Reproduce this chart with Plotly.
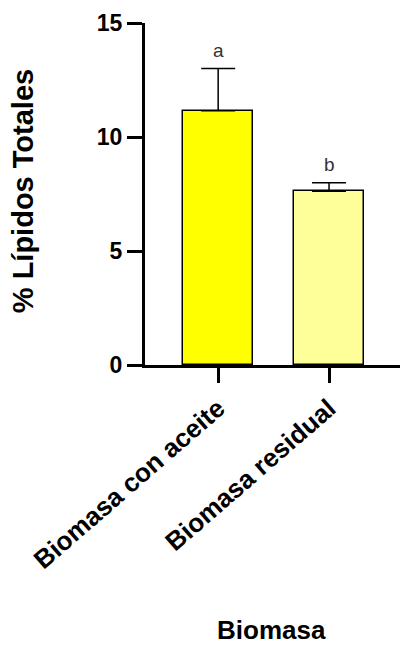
import plotly.graph_objects as go

categories = ["Biomasa con aceite", "Biomasa residual"]
means = [11.15, 7.62]
sds = [1.85, 0.37]
letters = ["a", "b"]
bar_colors = ["#FFFF00", "#FFFF99"]
y_ticks = [0, 5, 10, 15]

FONT = "Liberation Sans, Arial, sans-serif"

fig = go.Figure()
fig.add_trace(go.Bar(
    x=categories, y=means,
    width=0.63,
    marker=dict(color=bar_colors, line=dict(color="black", width=1.5)),
    error_y=dict(type="data", symmetric=False, array=sds,
                 arrayminus=[0] * len(sds), width=17, thickness=1.5,
                 color="black"),
    showlegend=False,
))

for c, m, s, l in zip(categories, means, sds, letters):
    fig.add_annotation(x=c, y=m + s, text=l, showarrow=False,
                       yanchor="bottom", yshift=6,
                       font=dict(family=FONT, size=19, color="#333333"))

fig.add_annotation(xref="paper", yref="paper", x=-0.48, y=0.507,
                   text="% Lípidos Totales", textangle=-90,
                   showarrow=False, xanchor="center", yanchor="middle",
                   font=dict(family=FONT, size=29, color="black", weight="bold"))
fig.add_annotation(xref="paper", yref="paper", x=0.498, y=-0.8246,
                   text="Biomasa", showarrow=False,
                   xanchor="center", yanchor="bottom",
                   font=dict(family=FONT, size=26, color="black", weight="bold"))

fig.update_layout(
    width=400, height=647,
    margin=dict(l=145, r=0, t=23, b=282),
    plot_bgcolor="white", paper_bgcolor="white",
    bargap=0,
    xaxis=dict(
        range=[-0.66, 1.64],
        showline=True, linecolor="black", linewidth=3,
        ticks="outside", ticklen=15, tickwidth=3, tickcolor="black",
        tickangle=-41,
        tickfont=dict(family=FONT, size=26, color="black", weight="bold"),
        showgrid=False, zeroline=False, fixedrange=True,
    ),
    yaxis=dict(
        range=[0, 15], tickvals=y_ticks,
        showline=True, linecolor="black", linewidth=3,
        ticks="outside", ticklen=15, tickwidth=3, tickcolor="black",
        tickfont=dict(family=FONT, size=23, color="black", weight="bold"),
        showgrid=False, zeroline=False,
    ),
)

fig.write_html("out.html")
